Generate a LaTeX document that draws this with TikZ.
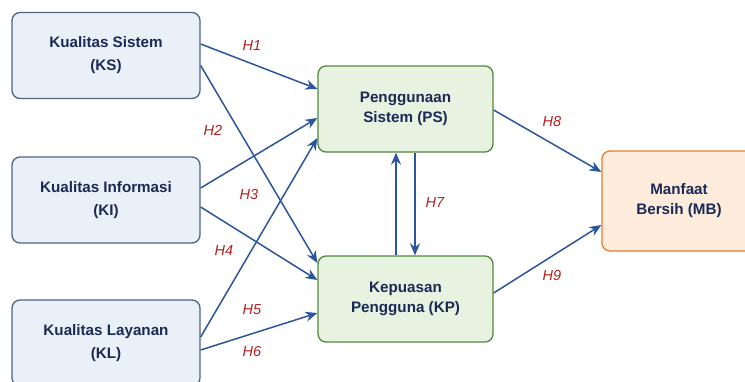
\documentclass[tikz,border=0pt]{standalone}
\usepackage{fontspec}
\setmainfont{Liberation Sans}
\usetikzlibrary{arrows.meta}
\definecolor{bluefill}{HTML}{EAF0F8}
\definecolor{blueline}{HTML}{4F6384}
\definecolor{greenfill}{HTML}{E7F2E1}
\definecolor{greenline}{HTML}{4F8A3C}
\definecolor{orangefill}{HTML}{FDEBDC}
\definecolor{orangeline}{HTML}{E07E32}
\definecolor{boxtext}{HTML}{1B2A55}
\definecolor{arrowblue}{HTML}{2B559C}
\definecolor{hred}{HTML}{B3201F}
\tikzstyle{varbox} = [rectangle, rounded corners=8pt, line width=1.3pt, align=center, text=boxtext, font=\fontsize{15.2}{23}\selectfont\bfseries]
\tikzstyle{inbox} = [varbox, draw=blueline, fill=bluefill, minimum width=188pt, minimum height=86pt]
\tikzstyle{midbox} = [varbox, draw=greenline, fill=greenfill, minimum width=175pt, minimum height=86pt, font=\fontsize{15.2}{19.5}\selectfont\bfseries]
\tikzstyle{outbox} = [varbox, draw=orangeline, fill=orangefill, minimum width=154pt, minimum height=100pt, font=\fontsize{15.2}{20}\selectfont\bfseries]
\tikzstyle{path} = [draw=arrowblue, line width=1.5pt, -{Stealth[length=12pt,width=10pt]}]
\tikzstyle{hyp} = [text=hred, font=\fontsize{14.5}{17}\selectfont\itshape]

\begin{document}
\begin{tikzpicture}[x=1pt,y=-1pt]
\useasboundingbox (0,0) rectangle (745,381);
\begin{scope}
\clip (0,0) rectangle (745,381);
% variabel
\node [inbox] (ks) at (106,55.5) {Kualitas Sistem\\(KS)};
\node [inbox] (ki) at (106,200) {Kualitas Informasi\\(KI)};
\node [inbox] (kl) at (106,343) {Kualitas Layanan\\(KL)};
\node [midbox] (ps) at (405.5,109) {Penggunaan\\Sistem (PS)};
\node [midbox] (kp) at (405.5,299) {Kepuasan\\Pengguna (KP)};
\node [outbox] (mb) at (679,201) {Manfaat\\Bersih (MB)};
\end{scope}
% hubungan
\draw [path] ([yshift=11.5pt]ks.east) -- ([yshift=20pt]ps.west);
\draw [path] ([yshift=-10pt]ks.east) -- ([yshift=36pt]kp.west);
\draw [path] ([yshift=12pt]ki.east) -- ([yshift=-9pt]ps.west);
\draw [path] ([yshift=-7pt]ki.east) -- ([yshift=19pt]kp.west);
\draw [path] ([yshift=6pt]kl.east) -- ([yshift=-29pt]ps.west);
\draw [path] ([yshift=-7pt]kl.east) -- ([yshift=-14pt]kp.west);
\draw [path] ([xshift=-9.5pt]kp.north) -- ([xshift=-9.5pt]ps.south);
\draw [path] ([xshift=9.5pt]ps.south) -- ([xshift=9.5pt]kp.north);
\draw [path] ([yshift=-1pt]ps.east) -- ([yshift=29pt]mb.west);
\draw [path] ([yshift=6pt]kp.east) -- ([yshift=-24pt]mb.west);
% label hipotesis
\node [hyp] (h1) at (252,46) {H1};
\node [hyp] (h2) at (213,130) {H2};
\node [hyp] (h3) at (249,195) {H3};
\node [hyp] (h4) at (224,251) {H4};
\node [hyp] (h5) at (252,310) {H5};
\node [hyp] (h6) at (252,352) {H6};
\node [hyp] (h7) at (435,203) {H7};
\node [hyp] (h8) at (552,122) {H8};
\node [hyp] (h9) at (552,276) {H9};
\end{tikzpicture}
\end{document}
